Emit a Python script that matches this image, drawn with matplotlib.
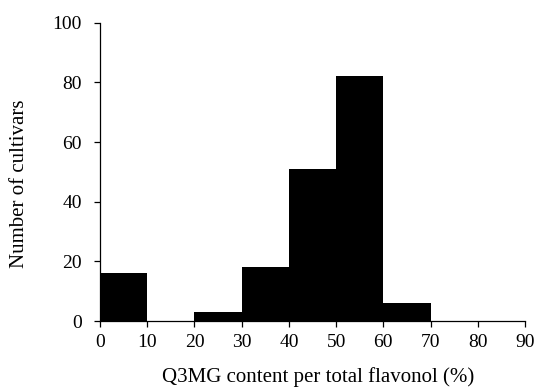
import numpy as np
from matplotlib import pyplot as plt

plt.rcParams["font.family"] = ["Liberation Serif", "DejaVu Serif"]

# histogram of Q3MG share (bins of 10 %)
bin_edges = [0, 10, 20, 30, 40, 50, 60, 70]
counts = [16, 0, 3, 18, 51, 82, 6]
x_ticks = [0, 10, 20, 30, 40, 50, 60, 70, 80, 90]
y_ticks = [0, 20, 40, 60, 80, 100]


def main():
    fig = plt.figure(figsize=(5.37, 3.90), dpi=100)
    ax = fig.add_axes([0.1862, 0.1769, 0.7915, 0.7649])

    edges = np.array(bin_edges)
    ax.bar(edges[:-1], counts, width=np.diff(edges), align="edge",
           color="black", edgecolor="black", linewidth=0)

    ax.set_xlim(0, 90)
    ax.set_ylim(0, 100)
    ax.set_xticks(x_ticks)
    ax.set_yticks(y_ticks)

    ax.spines["top"].set_visible(False)
    ax.spines["right"].set_visible(False)
    for side in ["left", "bottom"]:
        ax.spines[side].set_linewidth(0.9)
    ax.tick_params(axis="both", direction="out", length=4.5, width=0.9,
                   labelsize=14)
    ax.tick_params(axis="x", pad=5)
    ax.tick_params(axis="y", pad=8.5)

    ax.set_xlabel("Q3MG content per total flavonol (%)", fontsize=15)
    ax.set_ylabel("Number of cultivars", fontsize=15)
    ax.xaxis.set_label_coords(0.513, -0.154)
    ax.yaxis.set_label_coords(-0.166, 0.459)

    fig.savefig("out.png", dpi=100)
    plt.close()


if __name__ == "__main__":
    main()
